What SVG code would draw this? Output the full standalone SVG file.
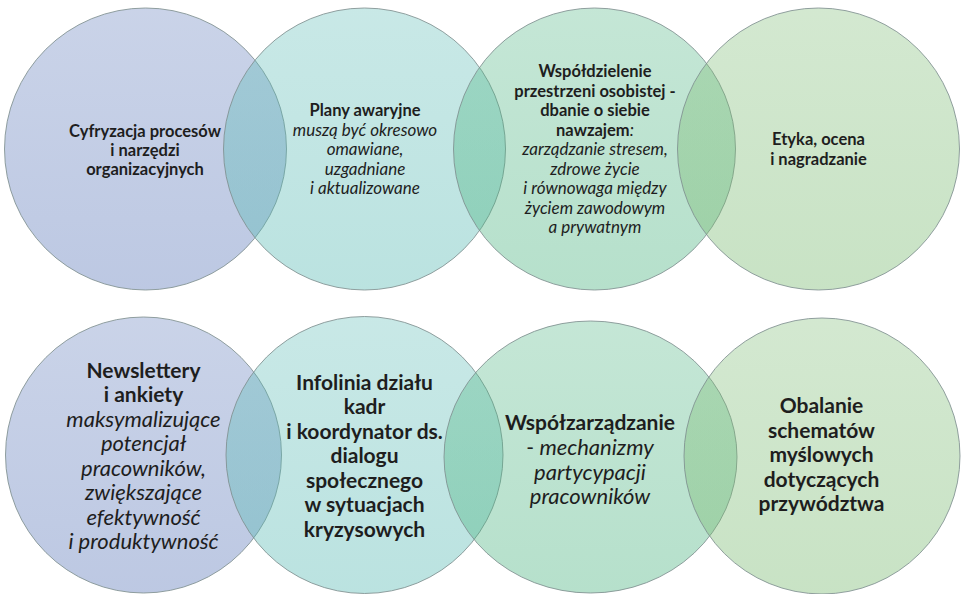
<svg xmlns="http://www.w3.org/2000/svg" width="962" height="594" viewBox="0 0 962 594">
<style>
.c{stroke:#7f8f8f;stroke-opacity:0.85;stroke-width:1}
.t{font-family:Lato,"Liberation Sans",sans-serif;fill:#1e1e1e;text-anchor:middle}
.s{font-size:16.5px}
.s .i{font-size:17px}
.l{font-size:21px}
.l .i{font-size:22px}
.b{font-weight:bold}
.i{font-style:italic}
.n{font-weight:normal}
</style>
<defs>
<linearGradient id="g1" x1="0" y1="0" x2="0" y2="1"><stop offset="0" stop-color="#5976b8" stop-opacity="0.32"/><stop offset="1" stop-color="#5976b8" stop-opacity="0.4"/></linearGradient>
<linearGradient id="g2" x1="0" y1="0" x2="0" y2="1"><stop offset="0" stop-color="#54b8b2" stop-opacity="0.32"/><stop offset="1" stop-color="#54b8b2" stop-opacity="0.4"/></linearGradient>
<linearGradient id="g3" x1="0" y1="0" x2="0" y2="1"><stop offset="0" stop-color="#48b27e" stop-opacity="0.32"/><stop offset="1" stop-color="#48b27e" stop-opacity="0.4"/></linearGradient>
<linearGradient id="g4" x1="0" y1="0" x2="0" y2="1"><stop offset="0" stop-color="#76b86d" stop-opacity="0.32"/><stop offset="1" stop-color="#76b86d" stop-opacity="0.4"/></linearGradient>
</defs>
<rect width="962" height="594" fill="#ffffff"/>

<g id="n1">
<circle class="c" cx="145.5" cy="149" r="141" fill="url(#g1)"/>
<text class="t s b"><tspan x="145" y="137">Cyfryzacja procesów</tspan><tspan x="145" y="156">i narzędzi</tspan><tspan x="145" y="175">organizacyjnych</tspan></text>
</g>
<g id="n2">
<circle class="c" cx="364.5" cy="149" r="141" fill="url(#g2)"/>
<text class="t s"><tspan class="b" x="365" y="116">Plany awaryjne</tspan><tspan class="i" x="365" y="135.5">muszą być okresowo</tspan><tspan class="i" x="365" y="155">omawiane,</tspan><tspan class="i" x="365" y="174.5">uzgadniane</tspan><tspan class="i" x="365" y="194">i aktualizowane</tspan></text>
</g>
<g id="n3">
<circle class="c" cx="594.5" cy="149" r="141" fill="url(#g3)"/>
<text class="t s"><tspan class="b" x="595" y="77">Współdzielenie</tspan><tspan class="b" x="595" y="96.5">przestrzeni osobistej -</tspan><tspan class="b" x="595" y="116">dbanie o siebie</tspan><tspan x="595" y="135.5"><tspan class="b">nawzajem</tspan><tspan class="i">:</tspan></tspan><tspan class="i" x="595" y="155">zarządzanie stresem,</tspan><tspan class="i" x="595" y="174.5">zdrowe życie</tspan><tspan class="i" x="595" y="194">i równowaga między</tspan><tspan class="i" x="595" y="213.5">życiem zawodowym</tspan><tspan class="i" x="595" y="233">a prywatnym</tspan></text>
</g>
<g id="n4">
<circle class="c" cx="818.5" cy="149" r="141" fill="url(#g4)"/>
<text class="t s b"><tspan x="818.5" y="145">Etyka, ocena</tspan><tspan x="818.5" y="164.5">i nagradzanie</tspan></text>
</g>

<g id="n5">
<circle class="c" cx="143.5" cy="455" r="138" fill="url(#g1)"/>
<text class="t l"><tspan class="b" x="143.5" y="377.5">Newslettery</tspan><tspan class="b" x="143.5" y="402">i ankiety</tspan><tspan class="i" x="143.5" y="426.5">maksymalizujące</tspan><tspan class="i" x="143.5" y="451">potencjał</tspan><tspan class="i" x="143.5" y="475.5">pracowników,</tspan><tspan class="i" x="143.5" y="500">zwiększające</tspan><tspan class="i" x="143.5" y="524.5">efektywność</tspan><tspan class="i" x="143.5" y="549">i produktywność</tspan></text>
</g>
<g id="n6">
<circle class="c" cx="364.5" cy="455" r="138.5" fill="url(#g2)"/>
<text class="t l b"><tspan x="364.5" y="389.5">Infolinia działu</tspan><tspan x="364.5" y="414">kadr</tspan><tspan x="364.5" y="438.5">i koordynator ds.</tspan><tspan x="364.5" y="463">dialogu</tspan><tspan x="364.5" y="487.5">społecznego</tspan><tspan x="364.5" y="512">w sytuacjach</tspan><tspan x="364.5" y="536.5">kryzysowych</tspan></text>
</g>
<g id="n7">
<ellipse class="c" cx="590.5" cy="457" rx="146.5" ry="136" fill="url(#g3)"/>
<text class="t l"><tspan class="b" x="590" y="429.5">Współzarządzanie</tspan><tspan x="590" y="454.5"><tspan class="n">- </tspan><tspan class="i">mechanizmy</tspan></tspan><tspan class="i" x="590" y="479.5">partycypacji</tspan><tspan class="i" x="590" y="504">pracowników</tspan></text>
</g>
<g id="n8">
<circle class="c" cx="822" cy="456" r="138" fill="url(#g4)"/>
<text class="t l b"><tspan x="821.5" y="412.5">Obalanie</tspan><tspan x="821.5" y="437.5">schematów</tspan><tspan x="821.5" y="462">myślowych</tspan><tspan x="821.5" y="486.5">dotyczących</tspan><tspan x="821.5" y="511">przywództwa</tspan></text>
</g>
</svg>
